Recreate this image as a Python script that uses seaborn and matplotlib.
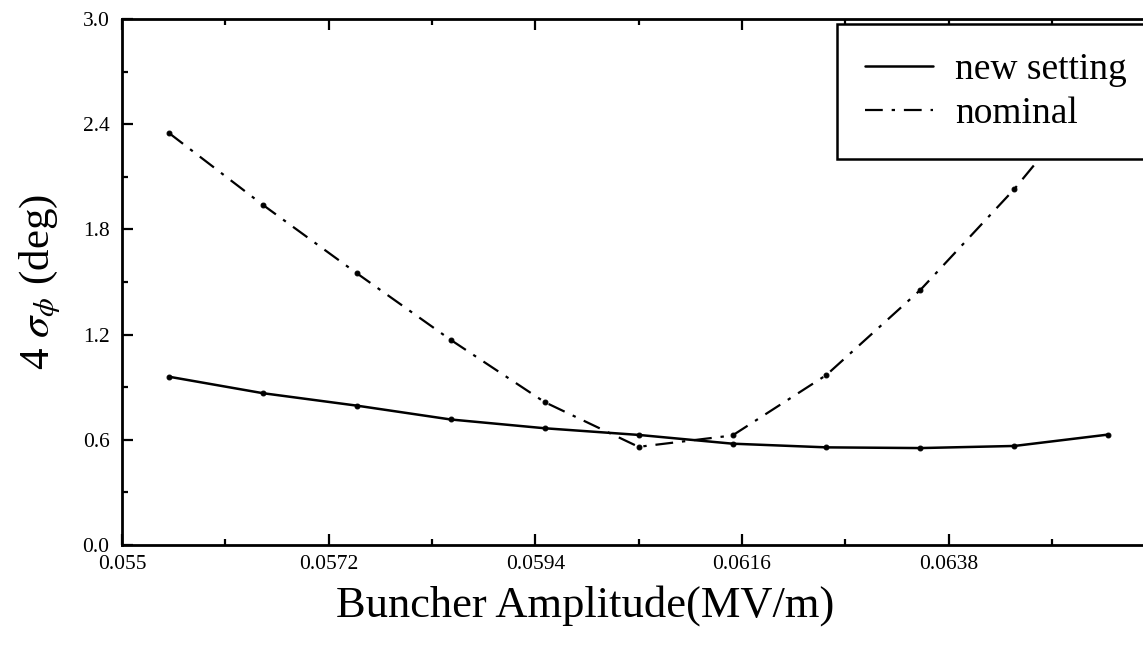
import numpy as np
import pandas as pd
import seaborn as sns
from matplotlib import pyplot as plt
from matplotlib.ticker import MultipleLocator, FixedLocator

# buncher amplitude (MV/m), one point every 0.001
amplitude = [0.0555, 0.0565, 0.0575, 0.0585, 0.0595, 0.0605,
             0.0615, 0.0625, 0.0635, 0.0645, 0.0655]
# 4 sigma_phi (deg)
new_setting = [0.96, 0.866, 0.795, 0.716, 0.666, 0.628,
               0.578, 0.557, 0.553, 0.565, 0.63]
nominal = [2.35, 1.94, 1.55, 1.17, 0.815, 0.56,
           0.625, 0.97, 1.455, 2.03, 2.68]

x_ticks = [0.055, 0.0572, 0.0594, 0.0616, 0.0638]
x_ticklabels = ["0.055", "0.0572", "0.0594", "0.0616", "0.0638"]
y_ticks = [0.0, 0.6, 1.2, 1.8, 2.4, 3.0]
y_ticklabels = ["0.0", "0.6", "1.2", "1.8", "2.4", "3.0"]

sns.set_theme(style="ticks")
plt.rcParams["font.family"] = ["Liberation Serif", "DejaVu Serif"]
plt.rcParams["mathtext.fontset"] = "stix"
plt.rcParams["text.color"] = "black"
plt.rcParams["axes.labelcolor"] = "black"

df = pd.DataFrame({"amp": amplitude, "new": new_setting, "nom": nominal})

fig = plt.figure(figsize=(11.43, 6.45), dpi=100)
ax = fig.add_axes([0.1067, 0.155, 0.904, 0.8155])

sns.lineplot(data=df, x="amp", y="new", ax=ax, color="black", linewidth=1.8,
             marker="o", markersize=3.5, mec="black", mfc="black",
             label="new setting")
sns.lineplot(data=df, x="amp", y="nom", ax=ax, color="black", linewidth=1.6,
             linestyle=(0, (8, 4, 1.5, 4)), marker="o", markersize=3.5,
             mec="black", mfc="black", label="nominal")

ax.set_xlim(0.055, 0.066)
ax.set_ylim(0, 3.0)
ax.set_xticks(x_ticks)
ax.set_xticklabels(x_ticklabels)
ax.xaxis.set_minor_locator(FixedLocator([0.0561, 0.0583, 0.0605, 0.0627, 0.0649]))
ax.set_yticks(y_ticks)
ax.set_yticklabels(y_ticklabels)
ax.yaxis.set_minor_locator(MultipleLocator(0.3))

ax.tick_params(which="both", direction="in", top=True, right=True,
               width=1.6, color="black", labelsize=15.5, labelcolor="black")
ax.tick_params(which="major", length=8)
ax.tick_params(which="minor", length=4.5)
ax.tick_params(axis="x", pad=7)
ax.tick_params(axis="y", pad=9)

for side in ["top", "bottom", "left", "right"]:
    ax.spines[side].set_linewidth(2)
    ax.spines[side].set_color("black")

ax.set_xlabel("Buncher Amplitude(MV/m)", fontsize=32)
ax.xaxis.set_label_coords(0.448, -0.076)
ax.set_ylabel(r"4 $\sigma_\phi$ (deg)", fontsize=31, labelpad=14)

leg = ax.legend(loc="upper right", bbox_to_anchor=(1.0, 0.99), borderaxespad=0,
                fontsize=27, frameon=True, fancybox=False, framealpha=1,
                edgecolor="black", handlelength=1.8, handletextpad=0.6,
                labelspacing=0.25, borderpad=0.75)
leg.get_frame().set_linewidth(1.8)
for h in leg.get_lines():
    h.set_marker("")

plt.savefig("out.png", dpi=100)
plt.close()
